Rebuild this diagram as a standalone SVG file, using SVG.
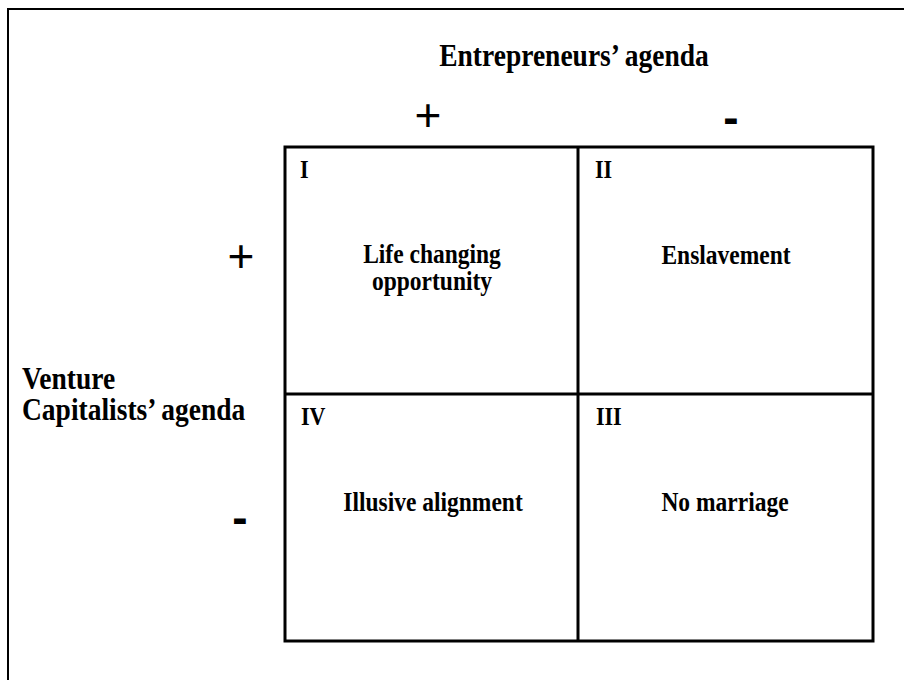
<svg xmlns="http://www.w3.org/2000/svg" width="904" height="680" viewBox="0 0 904 680">
  <style>
    .serif { font-family: "Liberation Serif", "Times New Roman", serif; font-weight: bold; fill: #000; }
    .axis { font-size: 27.5px; }
    .label { font-size: 23.5px; text-anchor: middle; }
    .num { font-size: 22px; }
    .sign { font-family: "Liberation Sans", Arial, sans-serif; font-size: 46px; fill: #000; text-anchor: middle; }
    .grid { fill: none; stroke: #000; stroke-width: 3; }
  </style>
  <rect width="904" height="680" fill="#fff"/>
  <!-- page frame -->
  <rect x="8" y="9" width="910" height="690" fill="none" stroke="#000" stroke-width="2"/>

  <!-- axis titles (serif text is drawn slightly tall, like a condensed Times face) -->
  <g id="axis-top">
    <text class="serif axis" transform="translate(574 66) scale(1 1.15)" text-anchor="middle">Entrepreneurs’ agenda</text>
    <text class="sign" x="428" y="131">+</text>
    <text class="sign" x="731" y="133" font-weight="bold">-</text>
  </g>
  <g id="axis-left">
    <text class="serif axis" transform="translate(22 389) scale(1 1.15)">Venture</text>
    <text class="serif axis" transform="translate(22 420) scale(1 1.15)">Capitalists’ agenda</text>
    <text class="sign" x="241" y="272">+</text>
    <text class="sign" x="240" y="533" font-weight="bold">-</text>
  </g>

  <!-- grid lines -->
  <g id="connectors">
    <rect class="grid" x="285" y="147" width="588" height="494"/>
    <line class="grid" x1="578" y1="147" x2="578" y2="641"/>
    <line class="grid" x1="285" y1="394" x2="873" y2="394"/>
  </g>

  <!-- quadrants -->
  <g id="q1">
    <text class="serif num" transform="translate(300 178) scale(1 1.15)">I</text>
    <text class="serif label" transform="translate(432 263) scale(1 1.15)">Life changing</text>
    <text class="serif label" transform="translate(432 290) scale(1 1.15)">opportunity</text>
  </g>
  <g id="q2">
    <text class="serif num" transform="translate(595 178) scale(1 1.15)">II</text>
    <text class="serif label" transform="translate(726 264) scale(1 1.15)">Enslavement</text>
  </g>
  <g id="q4">
    <text class="serif num" transform="translate(301 425) scale(1 1.15)">IV</text>
    <text class="serif label" transform="translate(433 511) scale(1 1.15)">Illusive alignment</text>
  </g>
  <g id="q3">
    <text class="serif num" transform="translate(596 425) scale(1 1.15)">III</text>
    <text class="serif label" transform="translate(725 511) scale(1 1.15)">No marriage</text>
  </g>
</svg>
